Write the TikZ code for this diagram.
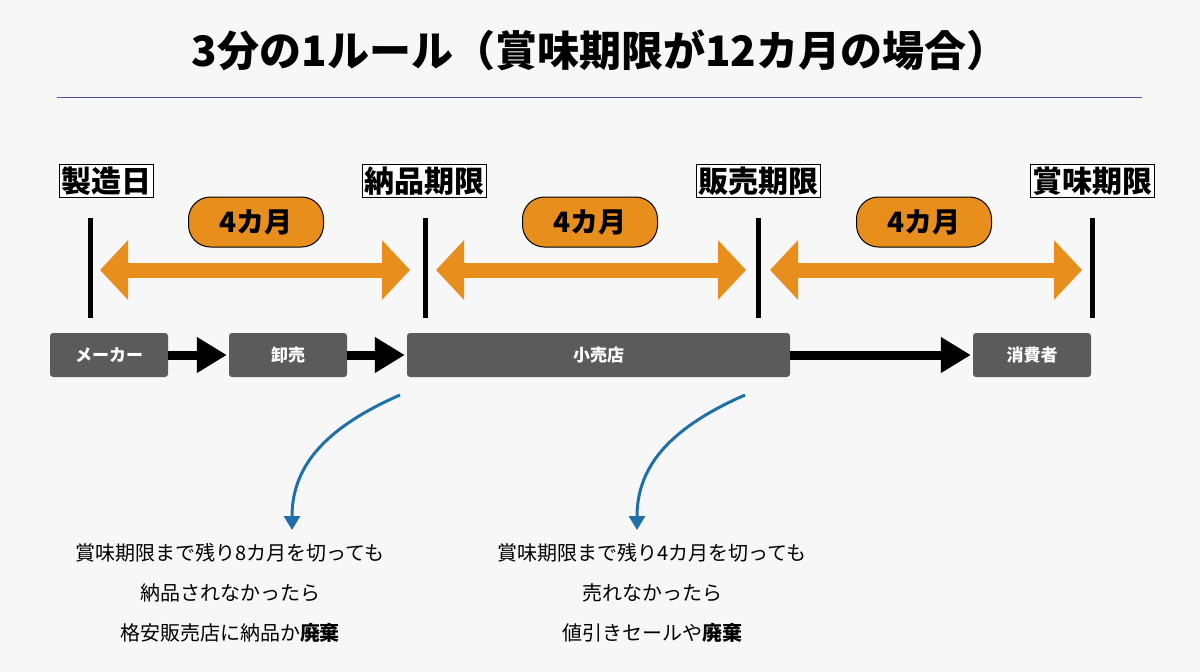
\documentclass[tikz,border=0pt]{standalone}
\usepackage{fontspec}
\setmainfont{Noto Sans CJK JP}
\usetikzlibrary{arrows.meta}
\definecolor{org}{HTML}{E88E1C}
\definecolor{gbox}{HTML}{5B5B5B}
\definecolor{blu}{HTML}{1F6FAA}
\definecolor{bg}{HTML}{F7F7F7}
\begin{document}
\begin{tikzpicture}[x=1pt,y=-1pt,
 lab/.style={draw=black,line width=1pt,fill=white,inner sep=2pt,font=\fontsize{30}{30}\selectfont\bfseries},
 pill/.style={draw=black,line width=1pt,fill=org,rounded corners=22pt,minimum width=135pt,minimum height=50pt,font=\fontsize{28}{28}\selectfont\bfseries},
 bar/.style={line width=5pt},
 oarr/.style={org,line width=15pt,{Triangle[length=28pt,width=58pt]}-{Triangle[length=28pt,width=58pt]}},
 gb/.style={fill=gbox,rounded corners=3pt,minimum height=44pt,text=white,font=\fontsize{17}{17}\selectfont\bfseries},
 barr/.style={line width=9pt,-{Triangle[length=30pt,width=34pt]},shorten >=2pt},
 carr/.style={blu,line width=3pt,-{Triangle[length=14pt,width=16pt]}},
 note/.style={align=center,font=\fontsize{20}{40}\selectfont}]
\fill[bg] (0,0) rectangle (1200,672);
\useasboundingbox (0,0) rectangle (1200,672);
\node[font=\fontsize{42}{42}\selectfont\bfseries] (title) at (600,50) {3分の1ルール（賞味期限が12カ月の場合）};
\draw[color=blue!40!gray,line width=0.8pt] (57,97) coordinate (l1) -- (1142,97) coordinate (l2);
\node[lab] (d1) at (106,181) {製造日};
\node[lab] (d2) at (424,181) {納品期限};
\node[lab] (d3) at (758,181) {販売期限};
\node[lab] (d4) at (1092,181) {賞味期限};
\foreach \i/\x in {1/90,2/425,3/758,4/1092}{
 \coordinate (t\i) at (\x,218); \coordinate (b\i) at (\x,318);
 \draw[bar] (t\i) -- (b\i);}
\coordinate (a1) at (100,270); \coordinate (a2) at (410,270);
\coordinate (a3) at (436,270); \coordinate (a4) at (746,270);
\coordinate (a5) at (770,270); \coordinate (a6) at (1082,270);
\draw[oarr] (a1) -- (a2);
\draw[oarr] (a3) -- (a4);
\draw[oarr] (a5) -- (a6);
\node[pill] (p1) at (256,222) {4カ月};
\node[pill] (p2) at (590,222) {4カ月};
\node[pill] (p3) at (924,222) {4カ月};
\node[gb,minimum width=118pt] (m) at (109,355) {メーカー};
\node[gb,minimum width=118pt] (w) at (288,355) {卸売};
\node[gb,minimum width=383pt] (r) at (598.5,355) {小売店};
\node[gb,minimum width=118pt] (c) at (1032,355) {消費者};
\draw[barr] (m) -- (w);
\draw[barr] (w) -- (r);
\draw[barr] (r) -- (c);
\coordinate (s1) at (400,395); \coordinate (e1) at (292,530);
\coordinate (s2) at (745,395); \coordinate (e2) at (637,530);
\draw[carr] (s1) .. controls (320,430) and (292,470) .. (e1);
\draw[carr] (s2) .. controls (665,430) and (637,470) .. (e2);
\node[note] (n1) at (230,593) {賞味期限まで残り8カ月を切っても\\納品されなかったら\\格安販売店に納品か\textbf{廃棄}};
\node[note] (n2) at (652,593) {賞味期限まで残り4カ月を切っても\\売れなかったら\\値引きセールや\textbf{廃棄}};
\end{tikzpicture}
\end{document}
